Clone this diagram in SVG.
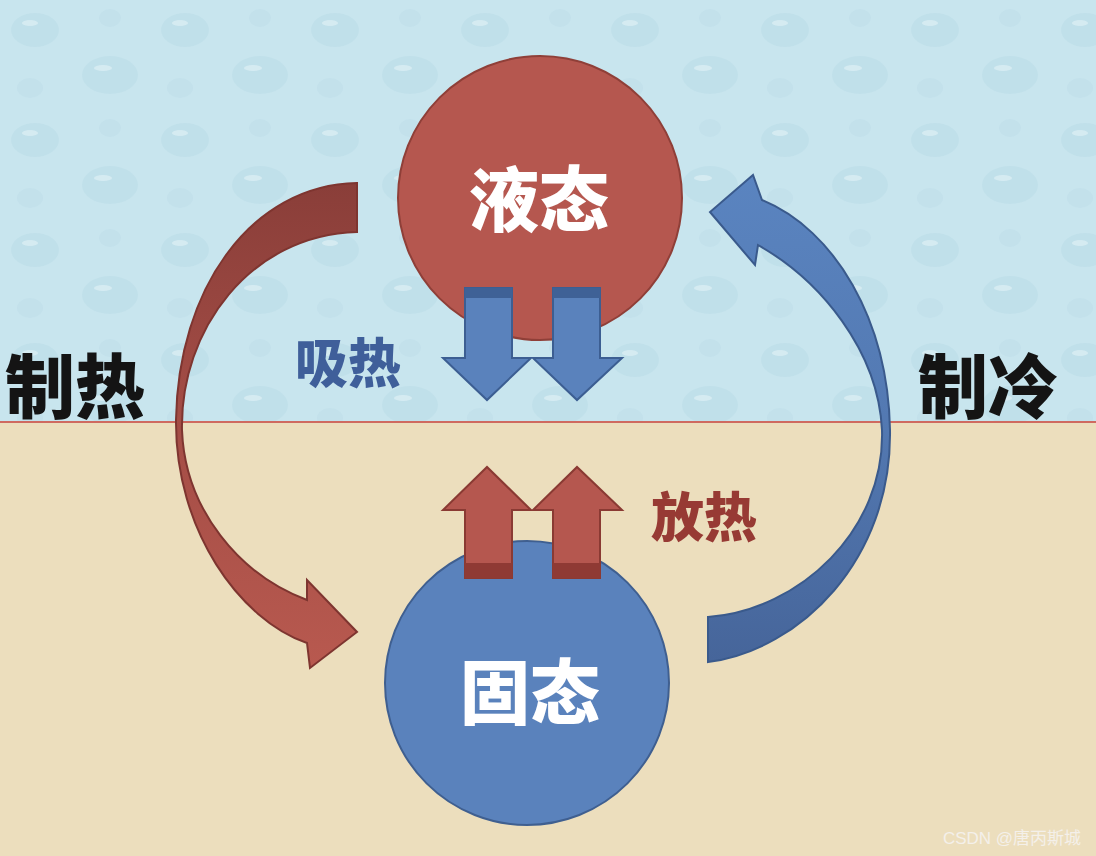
<svg xmlns="http://www.w3.org/2000/svg" width="1096" height="856" viewBox="0 0 1096 856">
<defs>
<style>
.cjk{font-family:"Noto Sans CJK SC","Noto Sans CJK JP",sans-serif;font-weight:900;text-anchor:middle;dominant-baseline:central}
.big{font-size:70px;fill:#ffffff}
.side{font-size:70px;fill:#141414}
.mid{font-size:53px}
.blueA{fill:#5a82bc;stroke:#3c5e92;stroke-width:2}
.redA{fill:#b5574f;stroke:#8a3a33;stroke-width:2}
</style>
<linearGradient id="redGrad" x1="0" y1="183" x2="0" y2="668" gradientUnits="userSpaceOnUse">
<stop offset="0" stop-color="#8a3e39"/>
<stop offset="0.45" stop-color="#a24c45"/>
<stop offset="1" stop-color="#b8594f"/>
</linearGradient>
<linearGradient id="blueGrad" x1="0" y1="175" x2="0" y2="662" gradientUnits="userSpaceOnUse">
<stop offset="0" stop-color="#5a84c0"/>
<stop offset="0.5" stop-color="#5379b2"/>
<stop offset="1" stop-color="#46659a"/>
</linearGradient>
<pattern id="drops" width="150" height="110" patternUnits="userSpaceOnUse">
<ellipse cx="35" cy="30" rx="24" ry="17" fill="#b2d6e2" opacity="0.35"/>
<ellipse cx="30" cy="23" rx="8" ry="3" fill="#eaf6fa" opacity="0.5"/>
<ellipse cx="110" cy="75" rx="28" ry="19" fill="#b2d6e2" opacity="0.35"/>
<ellipse cx="103" cy="68" rx="9" ry="3" fill="#eaf6fa" opacity="0.5"/>
<ellipse cx="110" cy="18" rx="11" ry="9" fill="#b6d9e5" opacity="0.3"/>
<ellipse cx="30" cy="88" rx="13" ry="10" fill="#b6d9e5" opacity="0.3"/>
</pattern>
</defs>
<g id="background">
<rect x="0" y="0" width="1096" height="422" fill="#c8e5ee"/>
<rect x="0" y="0" width="1096" height="422" fill="url(#drops)"/>
<rect x="0" y="422" width="1096" height="434" fill="#ecdebd"/>
<line x1="0" y1="422" x2="1096" y2="422" stroke="#cf6a60" stroke-width="2"/>
</g>
<g id="liquid">
<circle cx="540" cy="198" r="142" fill="#b5574f" stroke="#8f3f38" stroke-width="2"/>
<text class="cjk big" x="539" y="195">液态</text>
</g>
<g id="solid">
<circle cx="527" cy="683" r="142" fill="#5a82bc" stroke="#3f5f90" stroke-width="2"/>
<text class="cjk big" x="530" y="688">固态</text>
</g>
<g id="connectors">
<path id="heating-arrow" fill="url(#redGrad)" stroke="#7e3530" stroke-width="2" d="M357,183 C250,185 178,290 176,420 C175,530 240,620 307,643 L310,668 L357,632 L307,580 L307,600 C240,575 185,510 182,430 C180,330 250,235 357,232 Z"/>
<path id="cooling-arrow" fill="url(#blueGrad)" stroke="#3a5a8c" stroke-width="2" d="M708,662 C800,650 892,560 890,430 C888,320 835,230 762,200 L753,175 L710,212 L755,265 L758,245 C820,280 878,350 882,430 C885,530 800,610 708,617 Z"/>
<g id="absorb-arrows">
<path class="blueA" d="M465,288 L512,288 L512,358 L531,358 L487,400 L443,358 L465,358 Z"/>
<rect x="465" y="288" width="47" height="10" fill="#3f6196"/>
<path class="blueA" d="M553,288 L600,288 L600,358 L622,358 L577,400 L533,358 L553,358 Z"/>
<rect x="553" y="288" width="47" height="10" fill="#3f6196"/>
</g>
<g id="release-arrows">
<path class="redA" d="M465,578 L512,578 L512,510 L531,510 L487,467 L443,510 L465,510 Z"/>
<rect x="465" y="563" width="47" height="15" fill="#8f3a34"/>
<path class="redA" d="M553,578 L600,578 L600,510 L622,510 L577,467 L533,510 L553,510 Z"/>
<rect x="553" y="563" width="47" height="15" fill="#8f3a34"/>
</g>
</g>
<g id="labels">
<text class="cjk mid" x="348" y="360" fill="#3f5f9a">吸热</text>
<text class="cjk mid" x="704" y="514" fill="#973a34">放热</text>
<text class="cjk side" x="75" y="382">制热</text>
<text class="cjk side" x="988" y="382">制冷</text>
<text x="1012" y="838" font-family="'Liberation Sans','Noto Sans CJK SC',sans-serif" font-size="17" fill="#f4f0ea" text-anchor="middle" dominant-baseline="central">CSDN @唐丙斯城</text>
</g>
</svg>
